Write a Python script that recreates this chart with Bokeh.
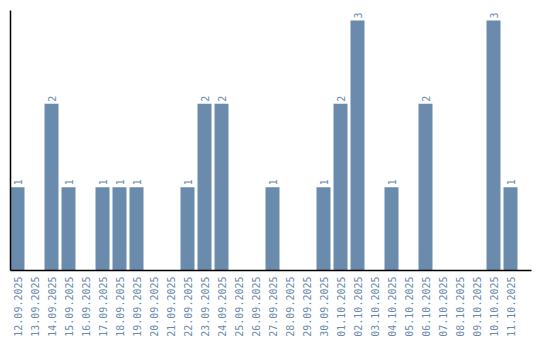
import math
from bokeh.plotting import figure
from bokeh.models import ColumnDataSource, Range1d, FixedTicker
from bokeh.core.properties import value
from bokeh.embed import file_html
from bokeh.resources import INLINE

dates = ["12.09.2025", "13.09.2025", "14.09.2025", "15.09.2025", "16.09.2025",
         "17.09.2025", "18.09.2025", "19.09.2025", "20.09.2025", "21.09.2025",
         "22.09.2025", "23.09.2025", "24.09.2025", "25.09.2025", "26.09.2025",
         "27.09.2025", "28.09.2025", "29.09.2025", "30.09.2025", "01.10.2025",
         "02.10.2025", "03.10.2025", "04.10.2025", "05.10.2025", "06.10.2025",
         "07.10.2025", "08.10.2025", "09.10.2025", "10.10.2025", "11.10.2025"]
counts = [1, 0, 2, 1, 0, 1, 1, 1, 0, 0, 1, 2, 2, 0, 0, 1, 0, 0, 1, 2, 3, 0, 1, 0, 2, 0, 0, 0, 3, 1]

BAR = "#6a8bab"
FONT = "DejaVu Sans Mono"

xs = list(range(len(dates)))
src = ColumnDataSource(dict(x=xs, top=counts))
lab_idx = [i for i, c in enumerate(counts) if c > 0]
lab_src = ColumnDataSource(dict(x=[xs[i] for i in lab_idx],
                                y=[counts[i] for i in lab_idx],
                                t=[str(counts[i]) for i in lab_idx]))

p = figure(width=540, height=340, output_backend="svg", toolbar_location=None,
           x_range=Range1d(-7 / 17, 514 / 17), y_range=Range1d(0, 3.12),
           min_border_left=10, min_border_right=9, min_border_top=10, min_border_bottom=70)
p.outline_line_color = None
p.grid.visible = False
p.background_fill_color = "white"
p.border_fill_color = "white"

p.vbar(x="x", top="top", width=14 / 17, bottom=0, source=src, fill_color=BAR, line_color=None)
p.text(x="x", y="y", text="t", source=lab_src, angle=math.pi / 2, text_align="left",
       text_baseline="middle", y_offset=-2, text_font=value(FONT), text_font_size="10px",
       text_color=BAR)

xa = p.xaxis[0]
xa.ticker = FixedTicker(ticks=xs)
xa.major_label_overrides = {i: d for i, d in enumerate(dates)}
xa.major_label_orientation = math.pi / 2
xa.major_tick_out = 0
xa.major_tick_in = 0
xa.minor_tick_out = 0
xa.minor_tick_in = 0
xa.major_label_standoff = 6
xa.major_label_text_font = FONT
xa.major_label_text_font_size = "10px"
xa.major_label_text_color = BAR
xa.axis_line_color = "black"
xa.axis_line_width = 1.5

ya = p.yaxis[0]
ya.ticker = FixedTicker(ticks=[])
ya.major_tick_out = 0
ya.major_tick_in = 0
ya.minor_tick_out = 0
ya.minor_tick_in = 0
ya.major_label_standoff = 0
ya.axis_line_color = "black"
ya.axis_line_width = 1.5

open("out.html", "w").write(file_html(p, INLINE))
